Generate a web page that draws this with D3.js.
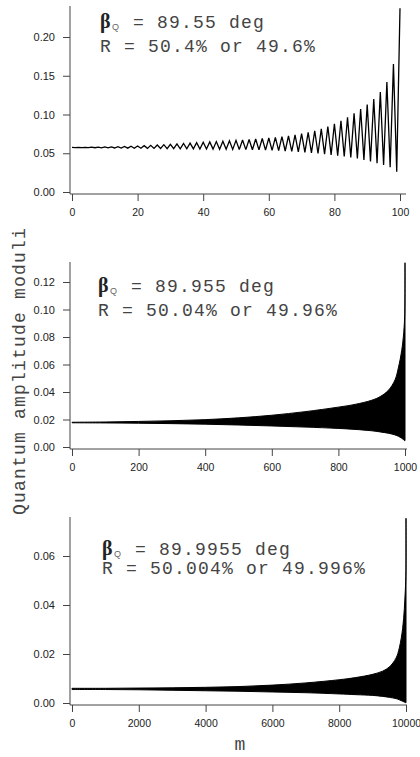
<!DOCTYPE html>
<html>
<head>
<meta charset="utf-8">
<script src="https://cdn.jsdelivr.net/npm/d3@7"></script>
<style>
  html, body { margin: 0; padding: 0; background: #fff; }
  svg { display: block; }
</style>
</head>
<body>
<svg id="chart" width="420" height="757"></svg>
<script>
// ---------- DATA ----------
// Panel 1: beta_Q = 89.55 deg, m = 0..100
const amp1 = [
  0.0575, 0.0573, 0.0576, 0.0572, 0.0577, 0.0572, 0.0578, 0.0571, 0.0579, 0.0570,
  0.0581, 0.0569, 0.0583, 0.0568, 0.0585, 0.0567, 0.0588, 0.0566, 0.0591, 0.0565,
  0.0594, 0.0564, 0.0598, 0.0563, 0.0602, 0.0562, 0.0606, 0.0561, 0.0611, 0.0560,
  0.0616, 0.0559, 0.0621, 0.0558, 0.0626, 0.0557, 0.0631, 0.0556, 0.0636, 0.0555,
  0.0641, 0.0554, 0.0646, 0.0553, 0.0651, 0.0552, 0.0656, 0.0551, 0.0661, 0.0550,
  0.0666, 0.0549, 0.0672, 0.0547, 0.0678, 0.0545, 0.0684, 0.0543, 0.0690, 0.0540,
  0.0697, 0.0537, 0.0705, 0.0533, 0.0714, 0.0529, 0.0725, 0.0524, 0.0738, 0.0518,
  0.0753, 0.0512, 0.0770, 0.0505, 0.0790, 0.0497, 0.0815, 0.0488, 0.0845, 0.0479,
  0.0880, 0.0469, 0.0920, 0.0458, 0.0965, 0.0446, 0.1015, 0.0432, 0.1070, 0.0415,
  0.1130, 0.0395, 0.1200, 0.0372, 0.1290, 0.0350, 0.1420, 0.0320, 0.1650, 0.0260,
  0.2370
];

// Panel 2: beta_Q = 89.955 deg, m = 0..1000 (envelope of dense oscillation)
const m2 = [0, 100, 200, 300, 400, 500, 600, 700, 800, 850, 900, 925, 950, 970, 980, 990, 995, 999, 1000];
const upper2 = [0.0180, 0.0182, 0.0186, 0.0191, 0.0199, 0.0212, 0.0231, 0.0257, 0.0290, 0.0310, 0.0340, 0.0366, 0.0412, 0.0488, 0.0575, 0.0700, 0.0800, 0.0950, 0.1340];
const lower2 = [0.0176, 0.0175, 0.0173, 0.0170, 0.0166, 0.0160, 0.0153, 0.0145, 0.0135, 0.0128, 0.0118, 0.0110, 0.0100, 0.0088, 0.0078, 0.0064, 0.0055, 0.0046, 0.0046];

// Panel 3: beta_Q = 89.9955 deg, m = 0..10000
const m3 = [0, 1000, 2000, 3000, 4000, 5000, 6000, 7000, 8000, 8500, 9000, 9300, 9500, 9700, 9800, 9900, 9950, 9980, 9999, 10000];
const upper3 = [0.0060, 0.0060, 0.0061, 0.0062, 0.0064, 0.0067, 0.0073, 0.0082, 0.0095, 0.0104, 0.0117, 0.0130, 0.0147, 0.0183, 0.0225, 0.0305, 0.0385, 0.0460, 0.0540, 0.0754];
const lower3 = [0.0055, 0.0055, 0.0054, 0.0052, 0.0050, 0.0048, 0.0045, 0.0042, 0.0037, 0.0034, 0.0031, 0.0027, 0.0023, 0.0018, 0.0013, 0.0007, 0.0004, 0.0002, 0.0001, 0.0001];

// Tick values
const xTicks1 = [0, 20, 40, 60, 80, 100];
const yTicks1 = [0.00, 0.05, 0.10, 0.15, 0.20];
const xTicks2 = [0, 200, 400, 600, 800, 1000];
const yTicks2 = [0.00, 0.02, 0.04, 0.06, 0.08, 0.10, 0.12];
const xTicks3 = [0, 2000, 4000, 6000, 8000, 10000];
const yTicks3 = [0.00, 0.02, 0.04, 0.06];

// Annotation text
const betaVals = ["89.55", "89.955", "89.9955"];
const rVals = ["50.4% or 49.6%", "50.04% or 49.96%", "50.004% or 49.996%"];

// ---------- DRAW ----------
const svg = d3.select("#chart");
const monoFont = "'Liberation Mono', 'DejaVu Sans Mono', monospace";
const sansFont = "'Liberation Sans', Arial, Helvetica, sans-serif";
const serifFont = "'Liberation Serif', 'DejaVu Serif', serif";
const monoSize = 18, monoSpacing = 1.2;

const panels = [
  { xDom: [0, 100], xRng: [72, 400], yDom: [0, 0.2], yRng: [192, 37], axTop: 6, axBottom: 194, axRight: 406,
    xTicks: xTicks1, yTicks: yTicks1, textX: 100, base1: 28, base2: 52 },
  { xDom: [0, 1000], xRng: [72, 405], yDom: [0, 0.12], yRng: [447, 282], axTop: 262, axBottom: 449, axRight: 407,
    xTicks: xTicks2, yTicks: yTicks2, textX: 98, base1: 292, base2: 316 },
  { xDom: [0, 10000], xRng: [72, 406], yDom: [0, 0.06], yRng: [703, 556], axTop: 517, axBottom: 705, axRight: 407,
    xTicks: xTicks3, yTicks: yTicks3, textX: 102, base1: 555, base2: 574 }
];

panels.forEach((p, i) => {
  const x = d3.scaleLinear().domain(p.xDom).range(p.xRng);
  const y = d3.scaleLinear().domain(p.yDom).range(p.yRng);
  const g = svg.append("g");

  // data
  if (i === 0) {
    const line = d3.line().x((d, k) => x(k)).y(d => y(d));
    g.append("path").datum(amp1)
      .attr("d", line).attr("fill", "none")
      .attr("stroke", "#000").attr("stroke-width", 1.3)
      .attr("stroke-linejoin", "miter").attr("stroke-miterlimit", 3);
  } else {
    const ms = i === 1 ? m2 : m3;
    const up = i === 1 ? upper2 : upper3;
    const lo = i === 1 ? lower2 : lower3;
    const rows = ms.map((m, k) => ({ m, u: up[k], l: lo[k] }));
    const area = d3.area().x(d => x(d.m)).y0(d => y(d.l)).y1(d => y(d.u)).curve(d3.curveCatmullRom.alpha(0.5));
    g.append("path").datum(rows)
      .attr("d", area).attr("fill", "#000")
      .attr("stroke", "#000").attr("stroke-width", 1);
  }

  // axes (L-shaped frame)
  g.append("line").attr("x1", 70).attr("x2", 70).attr("y1", p.axTop).attr("y2", p.axBottom)
    .attr("stroke", "#444").attr("stroke-width", 1);
  g.append("line").attr("x1", 70).attr("x2", p.axRight).attr("y1", p.axBottom).attr("y2", p.axBottom)
    .attr("stroke", "#444").attr("stroke-width", 1);

  const yAxis = d3.axisLeft(y).tickValues(p.yTicks).tickFormat(d3.format(".2f")).tickSize(7).tickPadding(8);
  const ya = g.append("g").attr("transform", "translate(70,0)").call(yAxis);
  ya.select(".domain").remove();
  ya.selectAll("line").attr("stroke", "#444");
  ya.selectAll("text").attr("font-family", sansFont).attr("font-size", 11).attr("fill", "#222");

  const xAxis = d3.axisBottom(x).tickValues(p.xTicks).tickFormat(d3.format("d")).tickSize(7).tickPadding(8);
  const xa = g.append("g").attr("transform", `translate(0,${p.axBottom})`).call(xAxis);
  xa.select(".domain").remove();
  xa.selectAll("line").attr("stroke", "#444");
  xa.selectAll("text").attr("font-family", sansFont).attr("font-size", 10.5).attr("fill", "#222");

  // annotation
  g.append("text").attr("x", p.textX).attr("y", p.base1)
    .attr("font-family", serifFont).attr("font-size", 20).attr("font-weight", "bold").attr("fill", "#222")
    .text("β");
  g.append("text").attr("x", p.textX + 12).attr("y", p.base1 + 2)
    .attr("font-family", sansFont).attr("font-size", 9).attr("fill", "#666")
    .text("Q");
  g.append("text").attr("x", p.textX + 21).attr("y", p.base1)
    .attr("font-family", monoFont).attr("font-size", monoSize).attr("letter-spacing", monoSpacing)
    .attr("fill", "#444").style("white-space", "pre")
    .text(" = " + betaVals[i] + " deg");
  g.append("text").attr("x", p.textX).attr("y", p.base2)
    .attr("font-family", monoFont).attr("font-size", monoSize).attr("letter-spacing", monoSpacing)
    .attr("fill", "#444").style("white-space", "pre")
    .text("R = " + rVals[i]);
});

// axis titles
svg.append("text")
  .attr("transform", "translate(25,371) rotate(-90)")
  .attr("text-anchor", "middle")
  .attr("font-family", monoFont).attr("font-size", monoSize).attr("letter-spacing", monoSpacing)
  .attr("fill", "#444")
  .text("Quantum amplitude moduli");

svg.append("text")
  .attr("x", 240).attr("y", 750)
  .attr("text-anchor", "middle")
  .attr("font-family", monoFont).attr("font-size", monoSize)
  .attr("fill", "#444")
  .text("m");
</script>
</body>
</html>
